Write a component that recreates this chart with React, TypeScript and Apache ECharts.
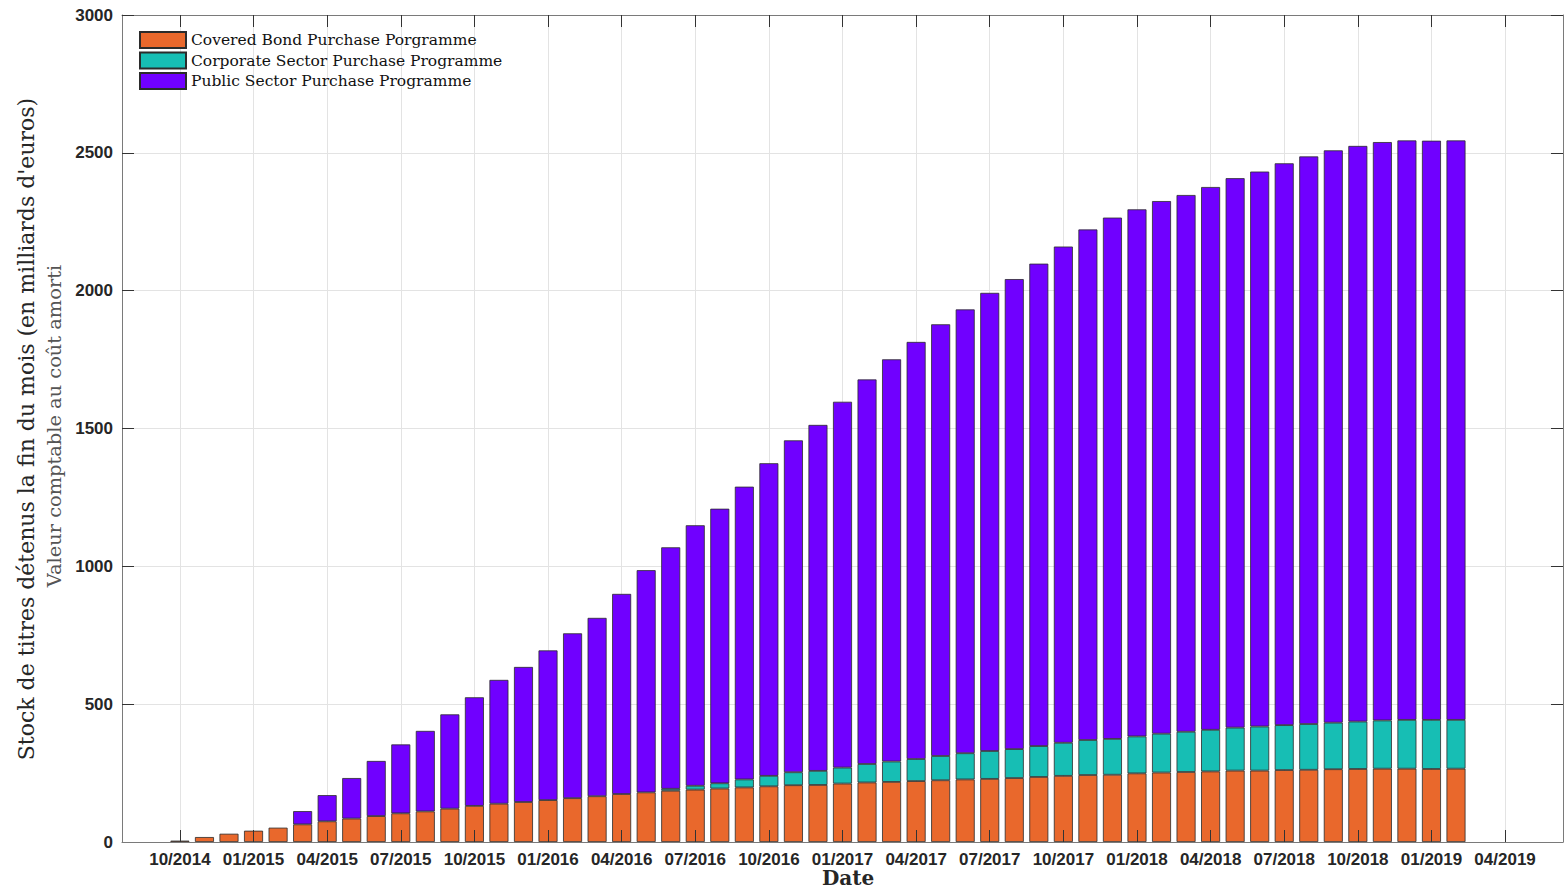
import React, { useEffect, useRef } from "react";
import * as echarts from "echarts";

const months = [
  "10/2014", "11/2014", "12/2014",
  "01/2015", "02/2015", "03/2015", "04/2015", "05/2015", "06/2015", "07/2015", "08/2015", "09/2015", "10/2015", "11/2015", "12/2015",
  "01/2016", "02/2016", "03/2016", "04/2016", "05/2016", "06/2016", "07/2016", "08/2016", "09/2016", "10/2016", "11/2016", "12/2016",
  "01/2017", "02/2017", "03/2017", "04/2017", "05/2017", "06/2017", "07/2017", "08/2017", "09/2017", "10/2017", "11/2017", "12/2017",
  "01/2018", "02/2018", "03/2018", "04/2018", "05/2018", "06/2018", "07/2018", "08/2018", "09/2018", "10/2018", "11/2018", "12/2018",
  "01/2019", "02/2019",
];

const tickLabels = [
  "10/2014", "01/2015", "04/2015", "07/2015", "10/2015", "01/2016", "04/2016", "07/2016", "10/2016",
  "01/2017", "04/2017", "07/2017", "10/2017", "01/2018", "04/2018", "07/2018", "10/2018", "01/2019", "04/2019",
];

// Covered Bond Purchase Programme
const cbpp = [
  5, 18, 30,
  41, 52, 64, 75, 85, 94, 104, 111, 121, 131, 139, 145,
  152, 159, 166, 174, 180, 186, 190, 194, 198, 202, 206, 207,
  212, 216, 218, 221, 224, 227, 229, 232, 236, 240, 243, 244,
  249, 252, 254, 256, 259, 259, 261, 262, 264, 265, 266, 266,
  265, 266,
];

// Corporate Sector Purchase Programme
const cspp = [
  0, 0, 0,
  0, 0, 0, 0, 0, 0, 0, 0, 0, 0, 0, 0,
  0, 0, 0, 0, 0, 7, 14, 19, 29, 38, 47, 51,
  58, 67, 74, 80, 88, 95, 101, 105, 112, 120, 127, 130,
  134, 141, 146, 151, 156, 160, 163, 166, 169, 172, 175, 177,
  178, 177,
];

// Public Sector Purchase Programme
const pspp = [
  0, 0, 0,
  0, 0, 48, 95, 147, 200, 250, 292, 342, 394, 449, 490,
  543, 598, 647, 726, 806, 876, 945, 996, 1062, 1134, 1204, 1255,
  1327, 1395, 1459, 1513, 1566, 1610, 1662, 1705, 1750, 1800, 1852, 1891,
  1912, 1932, 1947, 1969, 1993, 2013, 2038, 2059, 2076, 2088, 2098, 2102,
  2101, 2102,
];

const seriesNames = [
  "Covered Bond Purchase Porgramme",
  "Corporate Sector Purchase Programme",
  "Public Sector Purchase Programme",
];
const seriesColors = ["#E9682C", "#17BEB4", "#7000FF"];

const yTitle = "Stock de titres détenus la fin du mois (en milliards d'euros)";
const ySubTitle = "Valeur comptable au coût amorti";
const xTitle = "Date";

const monthIndex = (s: string) => {
  const [m, y] = s.split("/").map(Number);
  return (y - 2014) * 12 + (m - 10);
};

const W = 1564;
const H = 890;
const GRID_LEFT = 122;
const GRID_RIGHT = 1;
const GRID_TOP = 15;
const GRID_BOTTOM = 48;
const X_MIN = -2.36;
const X_MAX = 56.36;

export default function App() {
  const ref = useRef<HTMLDivElement>(null);

  useEffect(() => {
    const chart = echarts.init(ref.current!, null, { renderer: "svg" });
    const tickVals = tickLabels.map(monthIndex);
    const labelOf = (v: number) => {
      const i = tickVals.indexOf(Math.round(v));
      return i >= 0 ? tickLabels[i] : "";
    };

    // geometry of a category grid whose bands coincide with the month positions
    const pxPerMonth = (W - GRID_LEFT - GRID_RIGHT) / (X_MAX - X_MIN);
    const barGridLeft = GRID_LEFT + (monthIndex(months[0]) - X_MIN - 0.5) * pxPerMonth;
    const barGridRight = W - (barGridLeft + months.length * pxPerMonth);

    const axisLineStyle = { color: "#7a7a7a", width: 1 };
    const tickStyle = { color: "#333333", width: 1 };
    const gridStyle = { color: "#e3e3e3", width: 1 };

    const xCommon = {
      type: "value",
      gridIndex: 0,
      min: X_MIN,
      max: X_MAX,
      axisLine: { show: true, onZero: false, lineStyle: axisLineStyle },
      axisTick: { show: true, inside: true, length: 12, lineStyle: tickStyle, customValues: tickVals },
    };
    const yCommon = {
      type: "value",
      gridIndex: 0,
      min: 0,
      max: 3000,
      interval: 500,
      axisLine: { show: true, onZero: false, lineStyle: axisLineStyle },
      axisTick: { show: true, inside: true, length: 12, lineStyle: tickStyle },
    };

    chart.setOption({
      animation: false,
      backgroundColor: "#ffffff",
      grid: [
        { left: GRID_LEFT, right: GRID_RIGHT, top: GRID_TOP, bottom: GRID_BOTTOM, containLabel: false },
        { left: barGridLeft, right: barGridRight, top: GRID_TOP, bottom: GRID_BOTTOM, containLabel: false },
      ],
      legend: {
        orient: "vertical",
        left: 139,
        top: 31,
        padding: 0,
        itemGap: 2.5,
        itemWidth: 46,
        itemHeight: 16,
        icon: "rect",
        data: seriesNames,
        textStyle: { fontFamily: "DejaVu Serif", fontSize: 15.5, color: "#111111" },
      },
      xAxis: [
        {
          ...xCommon,
          position: "bottom",
          z: 5,
          splitLine: { show: false },
          axisLabel: {
            show: true,
            customValues: tickVals,
            formatter: (v: number) => labelOf(v),
            fontFamily: "Liberation Sans",
            fontWeight: "bold",
            fontSize: 17,
            color: "#262626",
            margin: 9,
          },
        },
        {
          ...xCommon,
          position: "top",
          z: 0,
          splitLine: { show: true, lineStyle: gridStyle },
          axisLabel: { show: false },
        },
        {
          type: "category",
          gridIndex: 1,
          data: months,
          boundaryGap: true,
          show: false,
        },
      ],
      yAxis: [
        {
          ...yCommon,
          position: "left",
          splitLine: { show: true, lineStyle: gridStyle },
          axisLabel: {
            formatter: (v: number) => String(v),
            fontFamily: "Liberation Sans",
            fontWeight: "bold",
            fontSize: 17,
            color: "#262626",
            margin: 9,
          },
        },
        {
          ...yCommon,
          position: "right",
          splitLine: { show: false },
          axisLabel: { show: false },
        },
        {
          type: "value",
          gridIndex: 1,
          min: 0,
          max: 3000,
          show: false,
          splitLine: { show: false },
        },
      ],
      series: [cbpp, cspp, pspp].map((arr, k) => ({
        name: seriesNames[k],
        type: "bar",
        stack: "app",
        xAxisIndex: 2,
        yAxisIndex: 2,
        barWidth: 19,
        data: arr.map((v) => (v === 0 ? "-" : v)),
        itemStyle: { color: seriesColors[k], borderColor: "#2b2b2b", borderWidth: 0.8 },
      })),
      graphic: [
        {
          type: "text",
          x: 26,
          y: 429,
          rotation: Math.PI / 2,
          style: {
            text: yTitle,
            fontFamily: "DejaVu Serif",
            fontSize: 22,
            fill: "#262626",
            align: "center",
            verticalAlign: "middle",
          },
        },
        {
          type: "text",
          x: 54,
          y: 426,
          rotation: Math.PI / 2,
          style: {
            text: ySubTitle,
            fontFamily: "DejaVu Serif",
            fontSize: 19.4,
            fill: "#555555",
            align: "center",
            verticalAlign: "middle",
          },
        },
        {
          type: "text",
          x: 848,
          y: 878,
          style: {
            text: xTitle,
            fontFamily: "DejaVu Serif",
            fontWeight: "bold",
            fontSize: 20,
            fill: "#262626",
            align: "center",
            verticalAlign: "middle",
          },
        },
      ],
    });

    return () => chart.dispose();
  }, []);

  return (
    <div
      ref={ref}
      style={{ position: "absolute", left: 0, top: 0, width: W, height: H }}
    />
  );
}
